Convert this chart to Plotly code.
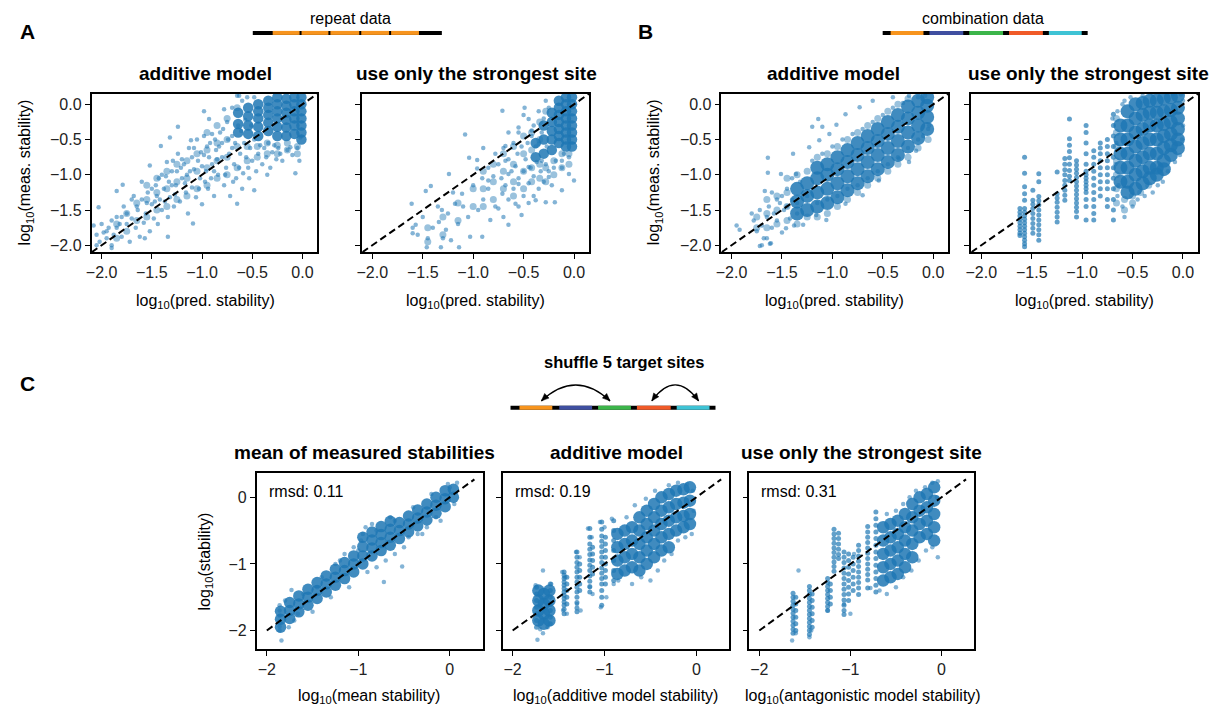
import math
import plotly.graph_objects as go

W, H = 1222, 711
FONT = "Liberation Sans, Arial, Helvetica, sans-serif"
BLUE = "#1f77b4"

# ---------------- data ----------------
diag_ab = [-2.1, 0.15]
diag_c = [-2.0, 0.27]
ticks_ab = [-2.0, -1.5, -1.0, -0.5, 0.0]
ticklabels_ab = ["−2.0", "−1.5", "−1.0", "−0.5", "0.0"]
ticks_c = [-2, -1, 0]
ticklabels_c = ["−2", "−1", "0"]
rmsd_labels = ["rmsd: 0.11", "rmsd: 0.19", "rmsd: 0.31"]

# Panel A, additive model (repeat data)
a_add_dense = [
    (-0.01, [0.1, 0.0, -0.1, -0.2, -0.3, -0.4, -0.5]),
    (-0.08, [0.1, 0.0, -0.1, -0.2, -0.3, -0.42]),
    (-0.16, [0.08, -0.02, -0.12, -0.22, -0.33, -0.45]),
    (-0.25, [0.1, 0.0, -0.1, -0.2, -0.32, -0.45]),
    (-0.34, [0.05, -0.05, -0.15, -0.26, -0.38]),
    (-0.44, [0.0, -0.1, -0.2, -0.32, -0.45]),
    (-0.54, [-0.05, -0.17, -0.3, -0.42]),
    (-0.64, [-0.12, -0.28, -0.4]),
]
a_add_mid = [
    (-1.85, [-1.9, -1.7]), (-1.75, [-1.8, -1.55]), (-1.65, [-1.65, -1.4]),
    (-1.55, [-1.6, -1.35, -1.15]), (-1.45, [-1.5, -1.25, -1.05]), (-1.35, [-1.45, -1.2, -0.95]),
    (-1.25, [-1.35, -1.1, -0.85]), (-1.15, [-1.3, -1.05, -0.8]), (-1.05, [-1.2, -0.95, -0.7]),
    (-0.95, [-1.15, -0.9, -0.65, -0.4]), (-0.85, [-1.05, -0.8, -0.55, -0.3]),
    (-0.75, [-1.0, -0.75, -0.5, -0.2]), (-0.65, [-0.9, -0.6, -0.05]), (-0.55, [-0.8, -0.6]),
    (-0.45, [-0.75, -0.6]), (-0.35, [-0.7, -0.55]), (-0.25, [-0.7, -0.58]), (-0.15, [-0.65, -0.55]),
    (-0.05, [-0.7, -0.6]),
]
a_add_sparse = [
    (-2.08, -1.72), (-2.05, -1.85), (-2.02, -1.95), (-1.98, -1.82), (-1.95, -1.9), (-1.93, -1.75),
    (-1.9, -2.0), (-1.88, -1.85), (-1.85, -1.6), (-1.82, -1.7), (-1.8, -1.88), (-1.78, -1.45),
    (-1.75, -1.55), (-1.72, -1.95), (-1.7, -1.62), (-1.68, -1.3), (-1.66, -1.75), (-1.64, -1.5),
    (-1.62, -1.88), (-1.6, -1.35), (-1.58, -1.68), (-1.56, -1.55), (-1.54, -1.25), (-1.52, -1.8),
    (-1.5, -1.42), (-1.48, -1.62), (-1.46, -1.15), (-1.44, -1.7), (-1.42, -1.35), (-1.4, -1.5),
    (-1.38, -1.2), (-1.36, -1.02), (-1.34, -1.6), (-1.32, -1.32), (-1.3, -0.95), (-1.28, -1.45),
    (-1.26, -1.15), (-1.24, -0.7), (-1.22, -1.38), (-1.2, -1.05), (-1.18, -0.85), (-1.16, -1.25),
    (-1.14, -1.55), (-1.12, -0.95), (-1.1, -1.18), (-1.08, -0.62), (-1.06, -1.32), (-1.04, -0.8),
    (-1.02, -1.05), (-1.0, -1.42), (-0.98, -0.72), (-0.96, -0.95), (-0.94, -1.2), (-0.92, -0.55),
    (-0.9, -0.85), (-0.88, -1.3), (-0.86, -0.65), (-0.84, -1.0), (-0.82, -0.4), (-0.8, -0.75),
    (-0.78, -1.15), (-0.76, -0.9), (-0.74, -0.5), (-0.72, -1.3), (-0.7, -0.62), (-0.68, -0.85),
    (-0.66, -1.05), (-0.64, -0.3), (-0.62, -0.7), (-0.6, -1.2),
    (-1.24, -0.32), (-0.98, -0.1), (-1.32, -0.47), (-1.41, -0.59), (-1.52, -0.87), (-1.79, -1.14),
    (-1.85, -1.23), (-2.03, -1.46), (-1.11, -0.51), (-0.93, -0.21), (-0.78, -0.07), (-0.63, 0.12),
    (-0.07, -0.98), (-0.65, -1.41), (-1.09, -1.69), (-1.34, -1.88), (-1.57, -1.9), (-1.9, -2.04),
    (-0.48, -1.22), (-0.35, -1.0), (-0.2, -0.8), (-0.02, -0.47), (-0.12, -0.61),
    (-0.58, -0.55), (-0.56, -0.75), (-0.54, -0.9), (-0.52, -0.62), (-0.5, -0.8), (-0.48, -0.5),
    (-0.46, -0.95), (-0.44, -0.7), (-0.42, -0.58), (-0.4, -0.85), (-0.38, -0.62), (-0.36, -0.75),
    (-0.34, -0.55), (-0.32, -0.9), (-0.3, -0.68), (-0.28, -0.58), (-0.26, -0.78), (-0.24, -0.62),
    (-0.22, -0.7), (-0.15, -0.65), (-0.1, -0.72), (-0.05, -0.62), (-0.03, -0.8),
    (-0.7, -0.45), (-0.75, -0.25), (-0.8, -0.55), (-0.85, -0.78), (-0.9, -0.42), (-0.95, -0.6),
    (-1.0, -0.88), (-1.05, -0.5), (-1.1, -0.75), (-1.15, -1.0), (-1.2, -0.78), (-1.25, -0.95),
    (-1.3, -1.15), (-1.35, -0.82), (-1.4, -1.0), (-1.45, -1.3), (-1.5, -1.2), (-1.55, -1.4),
    (-1.6, -1.1), (-1.65, -1.45), (-1.7, -1.35), (-1.75, -1.7), (-1.8, -1.6), (-1.85, -1.75),
    (-1.9, -1.65), (-1.95, -1.8), (-2.0, -1.7), (-2.05, -2.0),
    (-0.6, 0.05), (-0.55, 0.1), (-0.7, -0.05), (-0.65, 0.12), (-0.48, 0.1),
    (-0.98, -0.45), (-0.93, -0.75), (-0.88, -0.95), (-0.83, -0.6), (-0.79, -0.35), (-0.77, -1.0),
    (-0.73, -0.7), (-0.69, -1.1), (-0.67, -0.55), (-0.63, -0.9), (-0.61, -0.38), (-0.59, -0.98),
    (-0.57, -0.22), (-0.53, -1.05), (-0.51, -0.3), (-1.13, -0.62), (-1.08, -0.92), (-1.03, -1.2),
    (-1.01, -0.68), (-0.97, -1.1), (-0.91, -1.05), (-0.87, -0.5), (-1.17, -1.12), (-1.21, -0.9),
    (-1.27, -1.28), (-1.29, -0.8), (-1.33, -1.1), (-1.37, -1.38), (-1.43, -1.05), (-1.47, -1.38),
]

# Panel A, strongest site only (repeat data)
a_str_dense = [
    (-0.02, [0.1, 0.0, -0.1, -0.2, -0.3, -0.4, -0.5, -0.6]),
    (-0.08, [0.1, 0.0, -0.1, -0.2, -0.3, -0.4, -0.5, -0.6]),
    (-0.15, [0.05, -0.05, -0.15, -0.25, -0.35, -0.45, -0.55]),
    (-0.22, [-0.12, -0.25, -0.38, -0.5, -0.65]),
    (-0.3, [-0.3, -0.5, -0.7]),
    (-0.38, [-0.55, -0.75]),
]
a_str_mid = [
    (-1.45, [-1.75, -1.95]), (-1.3, [-1.6, -1.85]), (-1.15, [-1.4, -1.65]), (-1.0, [-1.2, -1.45]),
    (-0.9, [-0.95, -1.2, -1.45]), (-0.8, [-0.85, -1.1, -1.35]), (-0.7, [-0.7, -0.95, -1.2]),
    (-0.6, [-0.6, -0.85, -1.1, -1.3]), (-0.5, [-0.45, -0.7, -0.95, -1.2]),
    (-0.42, [-0.4, -0.65, -0.9, -1.1]), (-0.34, [-0.25, -0.5, -0.85, -1.05]),
    (-0.28, [-0.1, -0.9, -1.1]), (-0.2, [-0.8, -1.0]), (-0.12, [-0.7, -0.9]), (-0.05, [-0.7, -0.85]),
]
a_str_sparse = [
    (-1.08, -0.43), (-0.71, -0.09), (-0.49, -0.05), (-1.24, -0.99), (-1.42, -1.16), (-1.47, -1.23),
    (-1.61, -1.41), (-1.57, -1.71), (-1.6, -1.83), (-1.46, -2.03), (-1.32, -2.03), (-1.14, -2.03),
    (-1.27, -1.78), (-1.22, -1.93), (-1.04, -0.76), (-0.96, -0.79), (-0.96, -0.91), (-0.91, -1.05),
    (-1.11, -1.27), (-1.18, -1.41), (-1.31, -1.5), (-1.34, -1.67), (-1.03, -1.88), (-0.91, -1.88),
    (-0.83, -1.64), (-0.75, -1.48), (-0.65, -1.71), (-0.71, -1.27), (-0.58, -1.41), (-0.52, -1.57),
    (-0.38, -1.36), (-0.28, -1.39), (-0.19, -1.39), (-0.12, -1.22), (-0.68, -0.8), (-0.78, -0.7),
    (-0.85, -1.08), (-0.68, -0.59), (-0.55, -0.33), (-0.45, -0.21), (-0.42, -0.37), (-0.65, -0.99),
    (-0.55, -1.13), (-0.45, -0.89), (-0.35, -0.56), (-0.32, -0.8), (-0.25, -1.03), (-0.12, -0.8),
    (-0.05, -0.99), (0.0, -1.08),
    (-0.75, -0.85), (-0.72, -1.05), (-0.7, -0.62), (-0.68, -1.15), (-0.65, -0.78), (-0.62, -0.95),
    (-0.6, -0.55), (-0.6, -1.2), (-0.58, -0.88), (-0.56, -0.7), (-0.55, -1.05), (-0.52, -0.6),
    (-0.5, -0.95), (-0.5, -1.3), (-0.48, -0.78), (-0.46, -0.55), (-0.45, -1.12), (-0.43, -0.9),
    (-0.42, -0.45), (-0.4, -1.02), (-0.38, -0.6), (-0.37, -0.82), (-0.35, -1.2), (-0.33, -0.95),
    (-0.32, -0.4), (-0.3, -1.1), (-0.28, -0.85), (-0.27, -0.6), (-0.25, -0.95), (-0.22, -1.15),
    (-0.2, -0.9), (-0.18, -0.8), (-0.12, -0.9), (-0.1, -0.7), (-0.05, -0.75), (-0.3, -0.2),
    (-0.35, -0.1), (-0.4, -0.3), (-0.28, 0.05), (-0.25, -0.05), (-0.5, -0.15), (-0.55, -0.4),
    (-0.65, -0.4),
    (-0.85, -1.2), (-0.9, -1.35), (-0.95, -1.5), (-1.0, -1.15), (-1.05, -1.6), (-1.1, -1.45),
    (-1.15, -1.7), (-1.2, -1.25), (-1.25, -1.55), (-1.3, -1.9), (-1.35, -1.45), (-1.4, -1.75),
    (-1.45, -1.9), (-1.5, -1.6), (-1.55, -1.85), (-1.6, -1.75), (-0.8, -1.02), (-0.85, -0.9),
    (-0.9, -0.62), (-0.78, -1.45), (-0.7, -1.6), (-0.65, -1.35), (-0.55, -1.45), (-0.45, -1.4),
    (-0.4, -1.3),
]

# Panel B, additive model (combination data)
b_add_dense = [
    (-1.35, [-1.55, -1.38, -1.2]),
    (-1.25, [-1.5, -1.3, -1.12]),
    (-1.15, [-1.45, -1.25, -1.05, -0.9]),
    (-1.05, [-1.4, -1.2, -1.0, -0.85]),
    (-0.95, [-1.32, -1.12, -0.92, -0.75]),
    (-0.85, [-1.22, -1.02, -0.82, -0.65]),
    (-0.75, [-1.12, -0.92, -0.72, -0.55]),
    (-0.65, [-1.02, -0.82, -0.62, -0.45]),
    (-0.55, [-0.92, -0.72, -0.52, -0.35]),
    (-0.45, [-0.82, -0.62, -0.42, -0.25]),
    (-0.35, [-0.72, -0.52, -0.32, -0.15]),
    (-0.25, [-0.6, -0.4, -0.2, -0.03]),
    (-0.15, [-0.48, -0.3, -0.12, 0.05]),
    (-0.06, [-0.35, -0.18, -0.02, 0.1]),
]
b_add_mid = [
    (-1.75, [-1.75, -1.6]), (-1.65, [-1.75, -1.55, -1.35]), (-1.55, [-1.7, -1.5, -1.3]),
    (-1.45, [-1.65, -1.45, -1.25, -1.05]), (-1.35, [-1.7, -1.0]), (-1.25, [-1.6, -0.95]),
    (-1.15, [-1.6, -0.75]), (-1.05, [-1.55, -0.7]), (-0.95, [-1.45, -0.6]), (-0.85, [-1.35, -0.5]),
    (-0.75, [-1.25, -0.4]), (-0.65, [-1.15, -0.3]), (-0.55, [-1.05, -0.2]), (-0.45, [-0.95, -0.1]),
    (-0.35, [-0.85, 0.0]), (-0.25, [-0.75, 0.08]), (-0.15, [-0.62]), (-0.05, [-0.5]),
]
b_add_sparse = [
    (-1.95, -1.72), (-1.92, -1.78), (-1.8, -1.55), (-1.78, -1.65), (-1.75, -1.8), (-1.72, -1.5),
    (-1.7, -1.72), (-1.68, -1.9), (-1.65, -1.6), (-1.63, -1.45), (-1.6, -1.75), (-1.58, -1.55),
    (-1.55, -1.65), (-1.52, -1.4), (-1.5, -1.82), (-1.48, -1.5), (-1.45, -1.2), (-1.42, -1.62),
    (-1.4, -1.35), (-1.38, -1.72), (-1.35, -1.55), (-1.32, -1.1), (-1.6, -1.25), (-1.65, -1.9),
    (-1.7, -2.0), (-1.62, -1.98), (-1.55, -1.35),
    (-1.64, -0.76), (-1.39, -0.7), (-1.64, -0.97), (-1.67, -1.23), (-1.51, -0.99), (-1.14, -0.21),
    (-1.2, -0.32), (-1.1, -0.32), (-0.96, -0.29), (-1.23, -0.61), (-1.36, -0.99), (-1.13, -0.51),
    (-1.03, -0.42), (-0.87, -0.14), (-0.73, -0.04), (-0.6, 0.05), (-0.4, 0.1), (-0.24, 0.12),
    (-0.24, -0.82), (-0.04, -0.3), (-0.17, -0.66), (-0.34, -0.77), (-0.54, -1.08), (-0.7, -1.29),
    (-0.87, -1.41), (-1.06, -1.64), (-1.16, -1.57), (-1.29, -1.71), (-1.46, -1.76), (-1.61, -1.97),
    (-1.72, -2.01),
    (-1.25, -1.3), (-1.2, -0.8), (-1.15, -1.4), (-1.1, -0.7), (-1.05, -1.35), (-1.0, -0.6),
    (-0.95, -1.3), (-0.9, -0.5), (-0.85, -1.2), (-0.8, -0.42), (-0.75, -1.15), (-0.7, -0.35),
    (-0.65, -1.05), (-0.6, -0.25), (-0.55, -0.95), (-0.5, -0.15), (-0.45, -0.85), (-0.4, -0.05),
    (-0.35, -0.75), (-0.3, 0.02), (-0.25, -0.62), (-0.15, -0.5), (-0.1, -0.45), (-0.05, -0.35),
    (-0.15, 0.1), (-0.08, 0.12), (-1.4, -1.05), (-1.35, -1.4), (-1.45, -1.45), (-1.5, -1.3),
]

# Panel B, strongest site only (combination data)
b_str_dense = [
    (-0.62, [-0.3, -0.5, -0.7, -0.9, -1.1]),
    (-0.55, [-0.1, -0.3, -0.5, -0.7, -0.9, -1.1, -1.25]),
    (-0.47, [0.0, -0.2, -0.4, -0.6, -0.8, -1.0, -1.2]),
    (-0.4, [0.02, -0.15, -0.35, -0.55, -0.75, -0.95, -1.12]),
    (-0.33, [0.05, -0.12, -0.3, -0.5, -0.7, -0.9, -1.05]),
    (-0.26, [0.05, -0.12, -0.3, -0.5, -0.7, -0.9, -1.0]),
    (-0.19, [0.08, -0.1, -0.28, -0.45, -0.62, -0.8, -0.92]),
    (-0.12, [0.1, -0.08, -0.25, -0.42, -0.58, -0.72]),
    (-0.05, [0.12, -0.05, -0.2, -0.35, -0.5, -0.62]),
]
b_str_mid = [
    (-0.66, [-0.2, -0.4, -0.6, -0.8, -1.0, -1.2, -1.4]), (-0.58, [-1.35, -1.5]),
    (-0.5, [-1.3, -1.4]), (-0.42, [-1.25]), (-0.34, [-1.15]),
]
b_str_stripes = [
    (-1.617, [-1.48, -1.53, -1.58, -1.63, -1.68, -1.73, -1.78, -1.83, -1.86]),
    (-1.571, [-0.75, -0.98, -1.17, -1.27, -1.36, -1.48, -1.53, -1.58, -1.63, -1.68, -1.73, -1.78,
              -1.83, -1.88, -1.93, -1.98, -2.02]),
    (-1.489, [-1.22, -1.36, -1.42, -1.48, -1.55, -1.62, -1.69, -1.76, -1.83]),
    (-1.43, [-0.985, -1.1, -1.31, -1.37, -1.43, -1.5, -1.57, -1.64, -1.71, -1.78, -1.85, -1.93]),
    (-1.248, [-0.96, -1.27, -1.33, -1.39, -1.46, -1.53, -1.6, -1.67]),
    (-1.172, [-0.77, -0.85, -0.93, -1.0, -1.08, -1.15, -1.22, -1.29, -1.36]),
    (-1.126, [-0.21, -0.49, -0.58, -0.67, -0.76, -0.85, -0.94, -1.02, -1.08]),
    (-1.056, [-0.8, -0.86, -0.92, -0.98, -1.04, -1.1, -1.16, -1.22, -1.28, -1.34, -1.4, -1.46,
              -1.52, -1.6]),
    (-0.961, [-0.3, -0.4, -0.55, -0.7, -0.85, -0.95, -1.0, -1.05, -1.1, -1.15, -1.2, -1.25,
              -1.35, -1.45, -1.64]),
    (-0.885, [-0.66, -0.75, -0.85, -0.95, -1.05, -1.15, -1.25, -1.35, -1.45, -1.55, -1.64]),
    (-0.82, [-0.55, -0.62, -0.7, -0.8, -0.9, -1.0, -1.1, -1.2, -1.3]),
    (-0.75, [-0.5, -0.6, -0.7, -0.8, -0.9, -1.0, -1.1, -1.2, -1.35, -1.45]),
    (-0.69, [-0.14, -0.3, -0.45, -0.6, -0.75, -0.9, -1.05, -1.2, -1.35, -1.5, -1.64]),
]
b_str_sparse = [
    (-0.65, -1.3), (-0.6, -1.45), (-0.58, -1.6), (-0.5, -1.45), (-0.45, -1.35), (-0.38, -1.3),
    (-0.3, -1.25), (-0.25, -1.15), (-0.2, -1.1), (-0.15, -0.95), (-0.08, -0.82), (-0.03, -0.72),
    (-0.6, 0.0), (-0.65, -0.1), (-0.7, -0.2), (-0.58, 0.05), (-0.52, 0.1), (-0.4, 0.12),
    (-0.3, 0.15), (-0.1, 0.15), (-0.02, 0.14), (0.0, 0.05), (0.0, -0.3), (-0.01, -0.5),
    (-0.66, -0.55), (-0.67, -0.85), (-0.64, -1.15),
]

# Panel C, mean of measured stabilities
c_mean_dense = [
    (-1.85, [-1.95, -1.83, -1.71]),
    (-1.75, [-1.82, -1.7, -1.58]),
    (-1.65, [-1.72, -1.6, -1.48]),
    (-1.55, [-1.62, -1.5, -1.38]),
    (-1.45, [-1.52, -1.4, -1.28]),
    (-1.35, [-1.42, -1.3, -1.18]),
    (-1.25, [-1.32, -1.2, -1.08]),
    (-1.15, [-1.22, -1.1, -0.98]),
    (-1.05, [-1.12, -1.0, -0.88]),
    (-0.95, [-1.0, -0.88, -0.74, -0.6]),
    (-0.85, [-0.88, -0.76, -0.64, -0.52]),
    (-0.75, [-0.8, -0.68, -0.56, -0.44]),
    (-0.65, [-0.72, -0.6, -0.48, -0.36]),
    (-0.55, [-0.62, -0.5, -0.38]),
    (-0.45, [-0.52, -0.4, -0.28]),
    (-0.35, [-0.43, -0.31, -0.19]),
    (-0.25, [-0.34, -0.22, -0.1]),
    (-0.15, [-0.24, -0.12, 0.0]),
    (-0.05, [-0.14, -0.02, 0.1]),
    (0.04, [0.0, 0.12]),
]
c_mean_sparse = [
    (-1.86, -1.62), (-1.86, -1.7), (-1.86, -1.78), (-1.86, -1.86), (-1.86, -1.94), (-1.86, -2.0),
    (-1.84, -2.15), (-1.73, -1.39), (-1.8, -1.55), (-1.7, -1.85), (-1.6, -1.45), (-1.5, -1.72),
    (-1.4, -1.2), (-1.3, -1.5), (-1.2, -0.95), (-1.1, -1.35), (-1.0, -0.8), (-0.95, -0.55),
    (-0.92, -0.45), (-0.9, -1.12), (-0.8, -0.5), (-0.7, -0.95), (-0.72, -1.27), (-0.6, -0.35),
    (-0.52, -1.04), (-0.5, -0.75), (-0.4, -0.15), (-0.3, -0.55), (-0.2, 0.05), (-0.1, -0.35),
    (0.0, 0.15), (0.08, 0.22), (0.05, -0.1), (-0.02, 0.2), (-1.76, -1.95), (-1.66, -1.75),
    (-1.45, -1.35), (-1.25, -1.0), (-1.15, -0.85), (-0.85, -0.4), (-0.65, -0.3), (-0.45, -0.6),
    (-0.35, -0.55), (-0.25, -0.45), (-0.15, -0.3), (-0.8, -1.05), (-0.6, -0.85), (-1.05, -0.75),
    (-0.97, -0.65),
]

# Panel C, additive model
c_add_dense = [
    (-1.72, [-1.4, -1.55, -1.7, -1.85]),
    (-1.66, [-1.45, -1.6, -1.75, -1.9]),
    (-1.6, [-1.4, -1.55, -1.7, -1.85]),
    (-0.86, [-0.55, -0.75, -0.95, -1.15]),
    (-0.78, [-0.5, -0.7, -0.9, -1.1]),
    (-0.7, [-0.45, -0.65, -0.85, -1.05]),
    (-0.62, [-0.3, -0.5, -0.7, -0.9, -1.1]),
    (-0.54, [-0.2, -0.4, -0.6, -0.8, -1.0]),
    (-0.46, [-0.1, -0.3, -0.5, -0.7, -0.9]),
    (-0.38, [0.0, -0.2, -0.4, -0.6, -0.8]),
    (-0.3, [0.05, -0.15, -0.35, -0.55, -0.75]),
    (-0.22, [0.1, -0.1, -0.3, -0.5]),
    (-0.14, [0.12, -0.08, -0.28, -0.45]),
    (-0.07, [0.15, -0.05, -0.25, -0.4]),
]
c_add_stripes = [
    (-1.74, [-1.35, -1.45, -1.55, -1.65, -1.75, -1.85, -1.95]),
    (-1.59, [-1.3, -1.4, -1.5, -1.6, -1.7, -1.8, -1.9]),
    (-1.44, [-1.12, -1.17, -1.22, -1.27, -1.32, -1.37, -1.42, -1.47, -1.52, -1.57, -1.62, -1.68, -1.75]),
    (-1.41, [-1.2, -1.3, -1.4, -1.5, -1.6]),
    (-1.3, [-0.82, -0.9, -0.98, -1.05, -1.12, -1.2, -1.27, -1.35, -1.42, -1.5, -1.58, -1.66, -1.72]),
    (-1.27, [-1.0, -1.1, -1.2, -1.3, -1.4]),
    (-1.16, [-0.47, -0.6, -0.7, -0.78, -0.86, -0.94, -1.02, -1.1, -1.18, -1.26, -1.34, -1.42]),
    (-1.13, [-0.75, -0.85, -0.95, -1.05, -1.15]),
    (-1.03, [-0.37, -0.48, -0.58, -0.66, -0.74, -0.82, -0.9, -0.98, -1.06, -1.14, -1.22, -1.3,
             -1.4, -1.5, -1.62]),
    (-0.99, [-0.6, -0.7, -0.8, -0.9, -1.0, -1.1, -1.2, -1.3]),
    (-0.9, [-0.35, -0.5, -0.65, -0.8, -0.95, -1.1, -1.25]),
]
c_add_sparse = [
    (-1.67, -1.1), (-1.73, -2.14), (-1.67, -2.04), (-1.7, -1.98), (-1.62, -1.95), (-1.75, -1.32),
    (-1.58, -1.3), (-1.46, -1.12), (-1.43, -1.2), (-1.45, -1.7), (-1.41, -1.75), (-1.31, -0.82),
    (-1.27, -0.9), (-1.3, -1.6), (-1.26, -1.7), (-1.18, -0.47), (-1.14, -0.6), (-1.16, -1.35),
    (-1.13, -1.45), (-1.05, -0.37), (-1.0, -0.45), (-0.98, -1.5), (-1.04, -1.65), (-0.92, -0.32),
    (-0.9, -1.3), (-0.85, -1.25), (-0.76, -0.3), (-0.7, -1.3), (-0.67, -0.12), (-0.6, -1.2),
    (-0.55, -0.02), (-0.5, -1.25), (-0.45, 0.1), (-0.42, -1.1), (-0.35, -0.95), (-0.3, 0.18),
    (-0.27, -0.85), (-0.2, 0.22), (-0.2, -0.65), (-0.12, -0.6), (-0.1, 0.2), (-0.05, -0.55),
    (-0.04, 0.1), (-0.03, -0.2),
]

# Panel C, strongest site only
c_str_dense = [
    (-0.64, [-0.45, -0.65, -0.85, -1.05, -1.25]),
    (-0.56, [-0.4, -0.6, -0.8, -1.0, -1.2]),
    (-0.48, [-0.35, -0.55, -0.75, -0.95, -1.15]),
    (-0.4, [-0.25, -0.45, -0.65, -0.85, -1.05]),
    (-0.32, [-0.1, -0.3, -0.5, -0.7, -0.9]),
    (-0.24, [0.0, -0.2, -0.4, -0.6]),
    (-0.16, [0.05, -0.15, -0.35, -0.55]),
    (-0.08, [0.15, -0.05, -0.25, -0.45, -0.65]),
]
c_str_stripes = [
    (-1.63, [-1.44, -1.5, -1.56, -1.62, -1.68, -1.74, -1.8, -1.86, -1.92, -1.98, -2.04]),
    (-1.6, [-1.5, -1.6, -1.7, -1.8, -1.9, -2.0]),
    (-1.45, [-1.34, -1.4, -1.46, -1.52, -1.58, -1.64, -1.7, -1.76, -1.82, -1.88, -1.94, -2.0, -2.06]),
    (-1.42, [-1.45, -1.55, -1.65, -1.75, -1.85, -1.95]),
    (-1.25, [-1.22, -1.28, -1.34, -1.4, -1.46, -1.52, -1.58, -1.64, -1.7]),
    (-1.22, [-1.3, -1.4, -1.5, -1.6]),
    (-1.18, [-0.48, -0.55, -0.62, -0.69, -0.76, -0.83, -0.9, -0.97, -1.04, -1.11]),
    (-1.13, [-0.54, -0.62, -0.7, -0.78, -0.86, -0.92]),
    (-1.07, [-0.82, -0.9, -0.98, -1.06, -1.14, -1.22, -1.3, -1.38, -1.46, -1.54, -1.62, -1.7, -1.76]),
    (-1.02, [-0.85, -0.95, -1.05, -1.15, -1.25, -1.35, -1.45, -1.55]),
    (-0.97, [-0.9, -1.0, -1.1, -1.2, -1.3, -1.4]),
    (-0.91, [-0.72, -0.8, -0.88, -0.96, -1.04, -1.12, -1.2, -1.28, -1.36, -1.46]),
    (-0.81, [-0.44, -0.52, -0.6, -0.68, -0.76, -0.84, -0.92, -1.0, -1.08, -1.16, -1.24, -1.36]),
    (-0.72, [-0.22, -0.32, -0.42, -0.52, -0.62, -0.72, -0.82, -0.92, -1.02, -1.12, -1.22, -1.32, -1.42]),
]
c_str_sparse = [
    (-1.57, -1.1), (-1.6, -2.04), (-1.64, -2.15), (-1.43, -2.0), (-1.45, -2.1), (-1.25, -1.7),
    (-1.07, -1.6), (-1.0, -1.75), (-0.96, -0.85), (-0.78, -1.36), (-0.68, -1.4), (-0.6, -0.25),
    (-0.6, -1.45), (-0.5, -0.2), (-0.5, -1.35), (-0.42, -0.1), (-0.42, -1.2), (-0.35, 0.0),
    (-0.33, -1.1), (-0.28, 0.1), (-0.25, -0.95), (-0.18, 0.15), (-0.17, -0.8), (-0.1, 0.22),
    (-0.1, -0.75), (-0.04, 0.24), (-0.04, -0.9), (-0.05, 0.0),
]


# ---------------- helpers ----------------
def cols_xy(cols):
    xs, ys = [], []
    for cx, cy in cols:
        for v in cy:
            xs.append(cx)
            ys.append(v)
    return xs, ys


def pairs_xy(pairs):
    return [p[0] for p in pairs], [p[1] for p in pairs]


def px(x):
    return x / W


def py(y):
    return 1 - y / H


fig = go.Figure()

panels = [
    # (axis suffix, dense cols, mid cols, stripes cols, sparse pairs, diagonal, dense marker size)
    ("", a_add_dense, a_add_mid, [], a_add_sparse, diag_ab, 10.5),
    ("2", a_str_dense, a_str_mid, [], a_str_sparse, diag_ab, 10.5),
    ("3", b_add_dense, b_add_mid, [], b_add_sparse, diag_ab, 14),
    ("4", b_str_dense, b_str_mid, b_str_stripes, b_str_sparse, diag_ab, 14),
    ("5", c_mean_dense, [], [], c_mean_sparse, diag_c, 11.5),
    ("6", c_add_dense, [], c_add_stripes, c_add_sparse, diag_c, 12.5),
    ("7", c_str_dense, [], c_str_stripes, c_str_sparse, diag_c, 12.5),
]

for suf, dense, mid, stripes, sparse, diag, dsize in panels:
    xa, ya = "x" + suf, "y" + suf
    sx, sy = pairs_xy(sparse)
    fig.add_trace(go.Scatter(x=sx, y=sy, mode="markers", xaxis=xa, yaxis=ya, showlegend=False,
                             marker=dict(size=4.5, color=BLUE, opacity=0.55, line=dict(width=0))))
    if mid:
        mx, my = cols_xy(mid)
        fig.add_trace(go.Scatter(x=mx, y=my, mode="markers", xaxis=xa, yaxis=ya, showlegend=False,
                                 marker=dict(size=7, color=BLUE, opacity=0.45, line=dict(width=0))))
    if stripes:
        tx, ty = cols_xy(stripes)
        fig.add_trace(go.Scatter(x=tx, y=ty, mode="markers", xaxis=xa, yaxis=ya, showlegend=False,
                                 marker=dict(size=5, color=BLUE, opacity=0.7, line=dict(width=0))))
    dx, dy = cols_xy(dense)
    fig.add_trace(go.Scatter(x=dx, y=dy, mode="markers", xaxis=xa, yaxis=ya, showlegend=False,
                             marker=dict(size=dsize, color=BLUE, opacity=0.85, line=dict(width=0))))
    fig.add_trace(go.Scatter(x=diag, y=diag, mode="lines", xaxis=xa, yaxis=ya, showlegend=False,
                             line=dict(color="black", width=2, dash="7px,4px")))

# ---------------- axes ----------------
base = dict(showline=True, mirror=True, linecolor="black", linewidth=1.6, ticks="outside",
            ticklen=5, tickwidth=1.3, tickcolor="black", showgrid=False, zeroline=False,
            tickfont=dict(size=16, color="#222", family=FONT), fixedrange=True)

doms_x = {"": (86, 313), "2": (358, 586), "3": (719, 947), "4": (970, 1198),
          "5": (252, 479), "6": (499, 727), "7": (747, 973)}
top_y = (94, 253)
bot_y = (474, 651)

layout_axes = {}
for suf, (x0, x1) in doms_x.items():
    is_c = suf in ("5", "6", "7")
    y0, y1 = bot_y if is_c else top_y
    xr = [-2.11, 0.36] if is_c else [-2.1, 0.15]
    yr = [-2.28, 0.37] if is_c else [-2.1, 0.15]
    tv = ticks_c if is_c else ticks_ab
    tt = ticklabels_c if is_c else ticklabels_ab
    show_y = suf in ("", "3", "5")
    layout_axes["xaxis" + suf] = dict(base, domain=[px(x0), px(x1)], anchor="y" + suf, range=xr,
                                      tickvals=tv, ticktext=tt)
    layout_axes["yaxis" + suf] = dict(base, domain=[py(y1), py(y0)], anchor="x" + suf, range=yr,
                                      tickvals=tv, ticktext=tt, showticklabels=show_y)
fig.update_layout(**layout_axes)

# ---------------- annotations ----------------
ann = []


def text(x, y, s, size=16, bold=False, angle=0, xanchor="center"):
    ann.append(dict(x=px(x), y=py(y), xref="paper", yref="paper", text=("<b>%s</b>" % s) if bold else s,
                    showarrow=False, xanchor=xanchor, yanchor="middle", textangle=angle,
                    font=dict(size=size, color="black", family=FONT)))


text(22, 32, "A", 21, True)
text(643, 32, "B", 21, True)
text(22, 385, "C", 21, True)
text(346, 19, "repeat data", 16)
text(982, 19, "combination data", 16)
text(621, 363, "shuffle 5 target sites", 16.5, True)

text(200, 74, "additive model", 19, True)
text(473, 74, "use only the strongest site", 19, True)
text(832, 74, "additive model", 19, True)
text(1088, 74, "use only the strongest site", 19, True)
text(360, 454, "mean of measured stabilities", 19, True)
text(614, 454, "additive model", 19, True)
text(860, 454, "use only the strongest site", 19, True)

xl = "log<sub>10</sub>(pred. stability)"
text(200, 302, xl, 16)
text(472, 302, xl, 16)
text(833, 302, xl, 16)
text(1084, 302, xl, 16)
text(20, 173, "log<sub>10</sub>(meas. stability)", 16, angle=-90)
text(652, 173, "log<sub>10</sub>(meas. stability)", 16, angle=-90)
text(200, 563, "log<sub>10</sub>(stability)", 16, angle=-90)
text(365, 698, "log<sub>10</sub>(mean stability)", 16)
text(613, 698, "log<sub>10</sub>(additive model stability)", 16)
text(861, 698, "log<sub>10</sub>(antagonistic model stability)", 16)

for xs, lab in zip((262, 510, 757), rmsd_labels):
    text(xs, 493, lab, 16, xanchor="left")
fig.update_layout(annotations=ann)

# ---------------- construct diagrams ----------------
shapes = []


def seg(x0, x1, y, color, w=4):
    shapes.append(dict(type="line", xref="paper", yref="paper", x0=px(x0), x1=px(x1), y0=py(y), y1=py(y),
                       line=dict(color=color, width=w)))


ORANGE, NAVY, GREEN, RED, CYAN = "#f7941d", "#3f4fa0", "#3cb54a", "#f05a28", "#3ec3d5"
# repeat data
seg(248, 438, 33, "black")
for a, b in [(268, 295), (297, 324), (326, 355), (357, 385), (387, 415)]:
    seg(a, b, 33, ORANGE)
# combination data
seg(881, 1087, 33, "black")
for (a, b), c in zip([(889, 922), (928, 962), (968, 1002), (1008, 1042), (1048, 1081)],
                     [ORANGE, NAVY, GREEN, RED, CYAN]):
    seg(a, b, 33, c)
# shuffle
seg(507, 713, 409, "black")
for (a, b), c in zip([(516, 549), (556, 589), (595, 628), (634, 668), (674, 707)],
                     [ORANGE, NAVY, GREEN, RED, CYAN]):
    seg(a, b, 409, c)


def arrowhead(tipx, tipy, fromx, fromy, length=7.5, half=3.2):
    dx, dy = tipx - fromx, tipy - fromy
    n = math.hypot(dx, dy)
    ux, uy = dx / n, dy / n
    bx, by = tipx - ux * length, tipy - uy * length
    p1 = (bx - uy * half, by + ux * half)
    p2 = (bx + uy * half, by - ux * half)
    path = "M %f,%f L %f,%f L %f,%f Z" % (px(tipx), py(tipy), px(p1[0]), py(p1[1]), px(p2[0]), py(p2[1]))
    shapes.append(dict(type="path", xref="paper", yref="paper", path=path, fillcolor="black",
                       line=dict(color="black", width=0.5)))


# arcs with arrowheads at both ends
for x0, x1 in [(538, 607), (649, 696)]:
    xc, yc, ye = (x0 + x1) / 2, 370, 402
    path = "M %f,%f Q %f,%f %f,%f" % (px(x0), py(ye), px(xc), py(yc), px(x1), py(ye))
    shapes.append(dict(type="path", xref="paper", yref="paper", path=path,
                       line=dict(color="black", width=1.4)))
    arrowhead(x0, ye, xc, yc)
    arrowhead(x1, ye, xc, yc)
fig.update_layout(shapes=shapes)

fig.update_layout(width=W, height=H, margin=dict(l=0, r=0, t=0, b=0), paper_bgcolor="white",
                  plot_bgcolor="white", font=dict(family=FONT))

fig.write_html("out.html")
